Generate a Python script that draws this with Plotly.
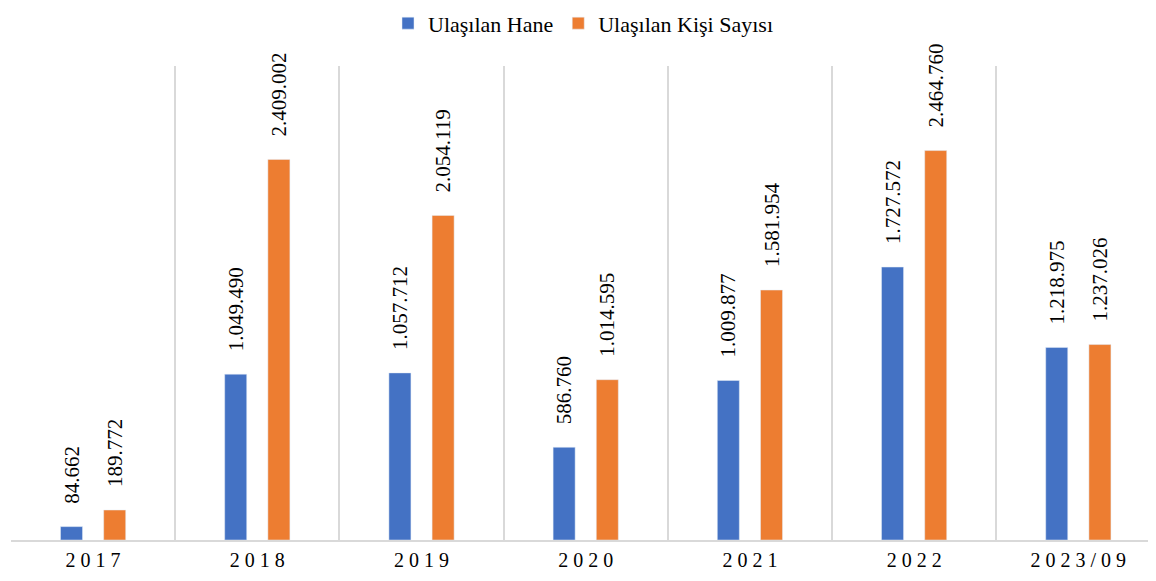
import plotly.graph_objects as go

years = ["2017", "2018", "2019", "2020", "2021", "2022", "2023/09"]
hane = [84662, 1049490, 1057712, 586760, 1009877, 1727572, 1218975]
kisi = [189772, 2409002, 2054119, 1014595, 1581954, 2464760, 1237026]

# spaced-out tick labels, like the original
tick_text = [" ".join(y) for y in years]

font_family = "Liberation Serif"
# leading spaces lift the rotated labels off the bar tops
label_tpl = "\u00a0\u00a0\u00a0\u2009%{y:,}"

fig = go.Figure()
fig.add_trace(go.Bar(x=years, y=hane, name="Ulaşılan Hane",
                     marker_color="#4472C4",
                     texttemplate=label_tpl, textposition="outside",
                     textangle=-90, cliponaxis=False, constraintext="none",
                     textfont=dict(family=font_family, size=21, color="#000000")))
fig.add_trace(go.Bar(x=years, y=kisi, name="Ulaşılan Kişi Sayısı",
                     marker_color="#ED7D31",
                     texttemplate=label_tpl, textposition="outside",
                     textangle=-90, cliponaxis=False, constraintext="none",
                     textfont=dict(family=font_family, size=21, color="#000000")))

# page body adds an 8px margin, so the figure is a bit smaller
fig.update_layout(
    width=1148, height=565,
    margin=dict(l=3, r=0, t=58, b=33, autoexpand=False),
    paper_bgcolor="white", plot_bgcolor="white",
    font=dict(family=font_family, color="#000000"),
    separators=",.",
    barmode="group", bargap=0.474, bargroupgap=0.49,
    legend=dict(orientation="h", x=0.5, xanchor="center",
                y=1.09, yanchor="middle",
                font=dict(family=font_family, size=22, color="#000000"),
                traceorder="normal"),
    xaxis=dict(type="category", tickmode="array", tickvals=years,
               ticktext=tick_text, tickson="boundaries",
               showgrid=True, gridcolor="#D9D9D9", gridwidth=2,
               showline=True, linecolor="#D9D9D9", linewidth=2,
               ticks="", tickfont=dict(family=font_family, size=20),
               ticklabelstandoff=1,
               range=[-0.5, 6.473]),
    yaxis=dict(range=[0, 3000000], visible=False, showgrid=False),
)

fig.write_html("out.html")
